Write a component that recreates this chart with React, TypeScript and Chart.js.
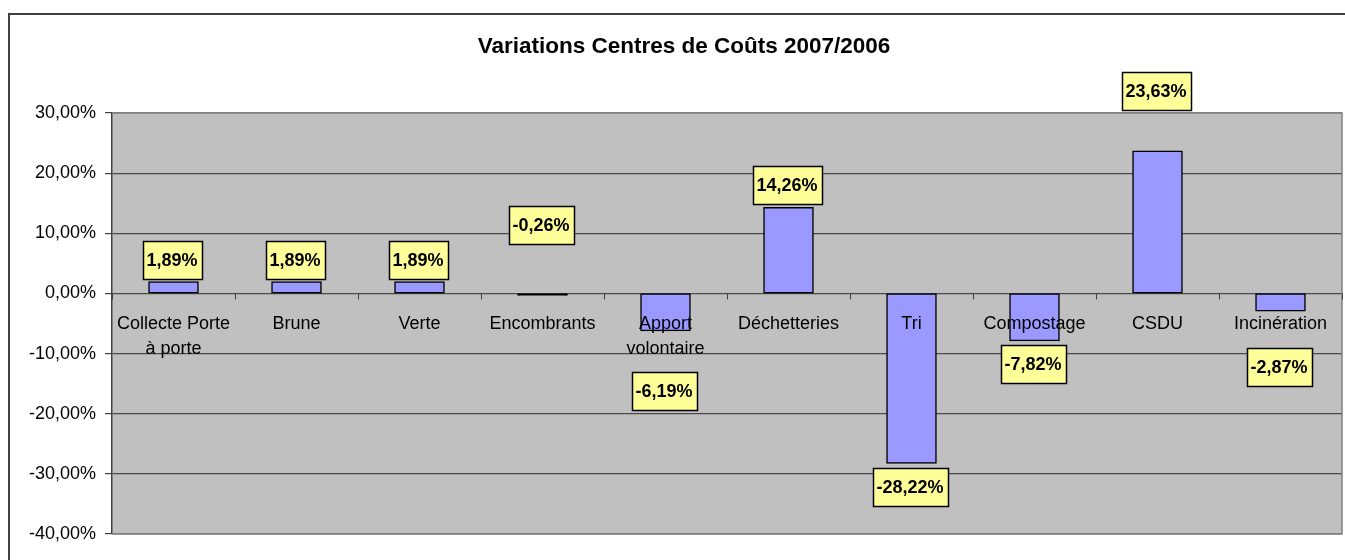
import { useEffect, useRef } from 'react';
import { Chart, registerables } from 'chart.js';

Chart.register(...registerables);

// ---- data ----
const categories: string[][] = [
  ['Collecte Porte', 'à porte'],
  ['Brune'],
  ['Verte'],
  ['Encombrants'],
  ['Apport', 'volontaire'],
  ['Déchetteries'],
  ['Tri'],
  ['Compostage'],
  ['CSDU'],
  ['Incinération'],
];
const variations: number[] = [1.89, 1.89, 1.89, -0.26, -6.19, 14.26, -28.22, -7.82, 23.63, -2.87];
const yMin = -40;
const yMax = 30;
const yStep = 10;
const chartTitle = 'Variations Centres de Coûts 2007/2006';

// ---- label placement (px shift of the label box centre from the bar end) ----
const labelShiftPx: number[] = [-21.7, -21.7, -21.7, -70, 60, -22.3, 23.7, 23.4, -60, 56.4];

const FONT = '"Liberation Sans", Arial, sans-serif';
const fmt = (v: number) => Number(v).toFixed(2).replace('.', ',') + '%';

const excelPlugin = {
  id: 'excelLook',
  beforeDraw(chart: any) {
    const { ctx, chartArea: a } = chart;
    ctx.save();
    ctx.fillStyle = '#ffffff';
    ctx.fillRect(0, 0, chart.width, chart.height);
    // outer chart border (only top/left visible)
    ctx.strokeStyle = '#404040';
    ctx.lineWidth = 2;
    ctx.strokeRect(9, 14, chart.width + 40, chart.height + 40);
    // plot area
    ctx.fillStyle = '#C0C0C0';
    ctx.fillRect(a.left, a.top, a.right - a.left, a.bottom - a.top);
    // title
    ctx.fillStyle = '#000';
    ctx.font = `bold 22.5px ${FONT}`;
    ctx.textAlign = 'center';
    ctx.textBaseline = 'middle';
    ctx.fillText(chartTitle, 684, 47);
    ctx.restore();
  },
  afterDatasetsDraw(chart: any) {
    const { ctx, chartArea: a, scales } = chart;
    const xs = scales.x;
    const ys = scales.y;
    const y0 = ys.getPixelForValue(0);
    ctx.save();
    // plot area border (top/right/bottom)
    ctx.strokeStyle = '#808080';
    ctx.lineWidth = 1.5;
    ctx.beginPath();
    ctx.moveTo(a.left, a.top);
    ctx.lineTo(a.right, a.top);
    ctx.lineTo(a.right, a.bottom);
    ctx.lineTo(a.left, a.bottom);
    ctx.stroke();

    // x-axis tick marks at category boundaries on the zero line
    const n = categories.length;
    const w = n > 1 ? xs.getPixelForValue(1) - xs.getPixelForValue(0) : a.right - a.left;
    ctx.strokeStyle = '#404040';
    ctx.lineWidth = 1;
    for (let i = 0; i <= n; i++) {
      const px = Math.round(xs.getPixelForValue(0) - w / 2 + i * w) + 0.5;
      ctx.beginPath();
      ctx.moveTo(px, y0);
      ctx.lineTo(px, y0 + 6);
      ctx.stroke();
    }

    // category labels
    ctx.fillStyle = '#000';
    ctx.font = `18px ${FONT}`;
    ctx.textAlign = 'center';
    ctx.textBaseline = 'alphabetic';
    categories.forEach((lines, i) => {
      const cx = xs.getPixelForValue(i);
      lines.forEach((ln, j) => {
        ctx.fillText(ln, cx, y0 + 36 + j * 25);
      });
    });

    // data labels
    const meta = chart.getDatasetMeta(0);
    ctx.font = `bold 18px ${FONT}`;
    ctx.textBaseline = 'middle';
    meta.data.forEach((el: any, i: number) => {
      const txt = fmt(variations[i]);
      const tw = ctx.measureText(txt).width;
      const bw = Math.round(tw + 8);
      const bh = 38;
      const cx = el.x - 1.5;
      const cy = el.y + labelShiftPx[i];
      const bx = Math.round(cx - bw / 2) + 0.5;
      const by = Math.round(cy - bh / 2) + 0.5;
      ctx.fillStyle = '#FFFF99';
      ctx.fillRect(bx, by, bw, bh);
      ctx.strokeStyle = '#000';
      ctx.lineWidth = 1.5;
      ctx.strokeRect(bx, by, bw, bh);
      ctx.fillStyle = '#000';
      ctx.fillText(txt, cx, cy + 1);
    });
    ctx.restore();
  },
};

export default function App() {
  const ref = useRef<HTMLCanvasElement | null>(null);
  useEffect(() => {
    if (!ref.current) return;
    const chart = new Chart(ref.current, {
      type: 'bar',
      data: {
        labels: categories,
        datasets: [
          {
            data: variations,
            // very thin bars show only their black outline
            backgroundColor: (c: any) => (c.raw !== undefined && Math.abs(c.raw) < 0.5 ? '#000000' : '#9999FF'),
            borderColor: '#000000',
            borderWidth: 1.5,
            borderSkipped: false,
            inflateAmount: 0.7,
            barPercentage: 0.4,
            categoryPercentage: 1,
          },
        ],
      },
      options: {
        responsive: false,
        animation: false,
        layout: { padding: { top: 113, right: 3, bottom: 26, left: 0 } },
        plugins: {
          legend: { display: false },
          title: { display: false },
          tooltip: { enabled: false },
        },
        scales: {
          x: { display: false },
          y: {
            min: yMin,
            max: yMax,
            ticks: {
              stepSize: yStep,
              callback: (v: any) => fmt(v),
              color: '#000',
              font: { family: FONT, size: 18 },
              padding: 9,
            },
            grid: {
              color: (c: any) => (c.tick && (c.tick.value === yMax || c.tick.value === yMin) ? '#808080' : '#4a4a4a'),
              lineWidth: 1.2,
              tickLength: 7,
              tickColor: '#404040',
            },
            border: { color: '#404040', width: 1.5 },
            afterFit: (s: any) => {
              s.width = 112;
            },
          },
        },
      },
      plugins: [excelPlugin],
    } as any);
    return () => chart.destroy();
  }, []);
  return (
    <div style={{ position: 'absolute', left: 0, top: 0, width: 1345, height: 560 }}>
      <canvas ref={ref} width={1345} height={560} style={{ display: 'block' }} />
    </div>
  );
}
